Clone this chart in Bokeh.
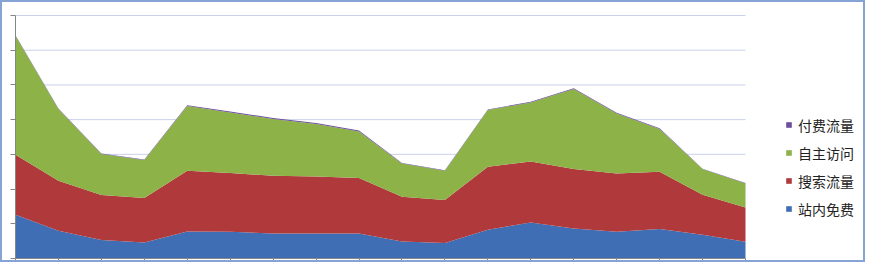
from bokeh.plotting import figure
from bokeh.models import Range1d, FixedTicker, Legend, LegendItem, ColumnDataSource, CustomJSTickFormatter
from bokeh.embed import file_html
from bokeh.resources import INLINE

# Data (18 periods, unlabeled in the reference)
periods = list(range(18))
zhannei = [630, 399, 265, 231, 389, 385, 360, 360, 360, 245, 222, 414, 519, 432, 385, 424, 342, 241]   # 站内免费
sousuo = [864, 721, 649, 639, 875, 846, 832, 822, 799, 644, 619, 907, 879, 856, 840, 825, 576, 494]    # 搜索流量
zizhu = [1715, 1033, 590, 548, 932, 873, 817, 755, 671, 480, 423, 817, 850, 1153, 864, 616, 370, 346]  # 自主访问
fufei = [8, 8, 8, 8, 12, 14, 14, 14, 12, 6, 6, 8, 10, 12, 12, 10, 6, 6]                                # 付费流量
names = ["站内免费", "搜索流量", "自主访问", "付费流量"]
y_ticks = [0, 500, 1000, 1500, 2000, 2500, 3000, 3500]

colors = ["#3f6eb5", "#b0393b", "#8cb248", "#6c4f9c"]

src = ColumnDataSource(dict(x=periods, s0=zhannei, s1=sousuo, s2=zizhu, s3=fufei))

# plot area spans 730 px for the 17 intervals; the frame continues right to hold the legend
x_end = periods[-1] * 852 / 730
y_end = y_ticks[-1] * 244 / 243
p = figure(width=865, height=262, output_backend="svg", toolbar_location=None,
           x_range=Range1d(0, x_end), y_range=Range1d(0, y_end),
           min_border_left=13, min_border_right=0, min_border_top=12, min_border_bottom=6)
p.styles = {"border": "2px solid #86a3d6"}
p.outline_line_color = None
p.background_fill_color = "white"
p.border_fill_color = "white"

# horizontal gridlines limited to the plot area
p.segment(x0=periods[0], x1=periods[-1], y0=y_ticks[1:], y1=y_ticks[1:],
          line_color="#c9d1ea", line_width=1)

rs = p.varea_stack(["s0", "s1", "s2", "s3"], x="x", source=src, color=colors)

# axes (no tick labels in the reference)
blank = CustomJSTickFormatter(code="return '';")
for ax in (p.xaxis[0], p.yaxis[0]):
    ax.axis_line_color = "#868686"
    ax.major_tick_line_color = "#868686"
    ax.major_tick_out = 5
    ax.major_tick_in = 0
    ax.minor_tick_line_color = None
    ax.formatter = blank
    ax.major_label_standoff = 0
p.xaxis.ticker = FixedTicker(ticks=periods)
p.xaxis.bounds = (periods[0], periods[-1])
p.yaxis.ticker = FixedTicker(ticks=y_ticks)
p.yaxis.bounds = (0, y_ticks[-1])

p.xgrid.grid_line_color = None
p.ygrid.grid_line_color = None

items = [LegendItem(label=names[i], renderers=[rs[i]]) for i in (3, 2, 1, 0)]
legend = Legend(items=items, location=(770, 39.5), orientation="vertical",
                glyph_width=7, glyph_height=7, label_height=20, spacing=8,
                label_standoff=6, padding=0, margin=0,
                label_text_font="Noto Sans CJK SC", label_text_font_size="14px",
                label_text_color="#222222", border_line_color=None,
                background_fill_alpha=0)
p.add_layout(legend)

open("out.html", "w").write(file_html(p, INLINE))
